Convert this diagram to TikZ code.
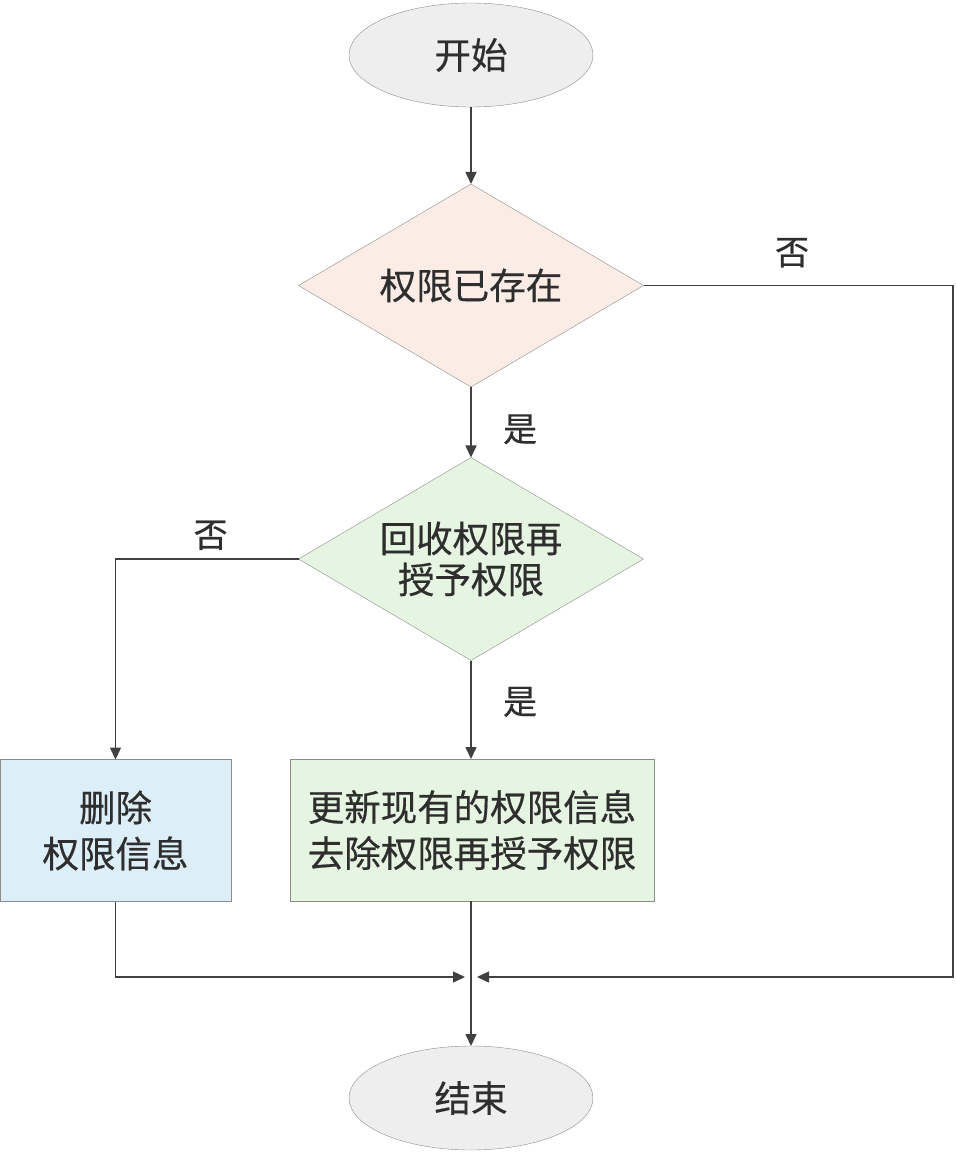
\documentclass[tikz,border=0pt]{standalone}
\usepackage{fontspec}
\setmainfont{Noto Sans CJK SC}[FakeBold=0.5]
\usetikzlibrary{shapes.geometric,arrows.meta}
\definecolor{linegray}{HTML}{404040}
\definecolor{edgegray}{HTML}{8C8C8C}
\definecolor{txtgray}{HTML}{2E2E2E}
\definecolor{termfill}{HTML}{EEEEEE}
\definecolor{peachfill}{HTML}{FBECE5}
\definecolor{greenfill}{HTML}{E6F5E1}
\definecolor{bluefill}{HTML}{DCEEF8}
\begin{document}
\begin{tikzpicture}[x=1pt, y=-1pt,
    txt/.style={text=txtgray, font=\fontsize{36.5}{46}\selectfont, align=center},
    terminal/.style={ellipse, draw=edgegray, fill=termfill, minimum width=244pt, minimum height=104pt, outer sep=0pt, txt},
    decision/.style={diamond, draw=edgegray, minimum width=345pt, minimum height=203pt, outer sep=0pt, inner sep=0pt},
    process/.style={rectangle, draw=edgegray, minimum height=142pt, outer sep=0pt, txt},
    flow/.style={draw=linegray, line width=1.5pt, -{Triangle[length=12pt,width=11pt]}},
    answer/.style={txt, font=\fontsize{34}{38}\selectfont}]
    \useasboundingbox (0,0) rectangle (956,1154);
    % nodes
    \node [terminal] (start) at (471,55) {开始};
    \node [decision, fill=peachfill] (exists) at (471,285.5) {};
    \node [txt] (existstext) at (exists) {权限已存在};
    \node [decision, fill=greenfill] (regrant) at (471,559) {};
    \node [txt, font=\fontsize{36.5}{41}\selectfont] (regranttext) at (regrant) {回收权限再\\授予权限};
    \node [process, fill=bluefill, minimum width=231pt] (remove) at (115.5,830.5) {删除\\权限信息};
    \node [process, fill=greenfill, minimum width=364pt] (update) at (472,830) {更新现有的权限信息\\去除权限再授予权限};
    \node [terminal] (stop) at (471,1098) {结束};
    \coordinate (join) at (471,977);
    % connectors
    \draw [flow] (start) -- (exists);
    \draw [flow] (exists) -- (regrant) node [answer, pos=0.6, right=28pt] {是};
    \draw [flow] (regrant) -- (regrant.south |- update.north) node [answer, pos=0.42, right=28pt] {是};
    \draw [flow] (regrant.west) -| (remove.north) node [answer, pos=0.24, above=5pt] {否};
    \draw [flow] (exists.east) -- (953,285.5) node [answer, pos=0.48, above=14pt] {否} |- ([xshift=6pt]join);
    \draw [flow] (remove.south) |- ([xshift=-6pt]join);
    \draw [flow] (update.south -| join) -- (stop);
\end{tikzpicture}
\end{document}
